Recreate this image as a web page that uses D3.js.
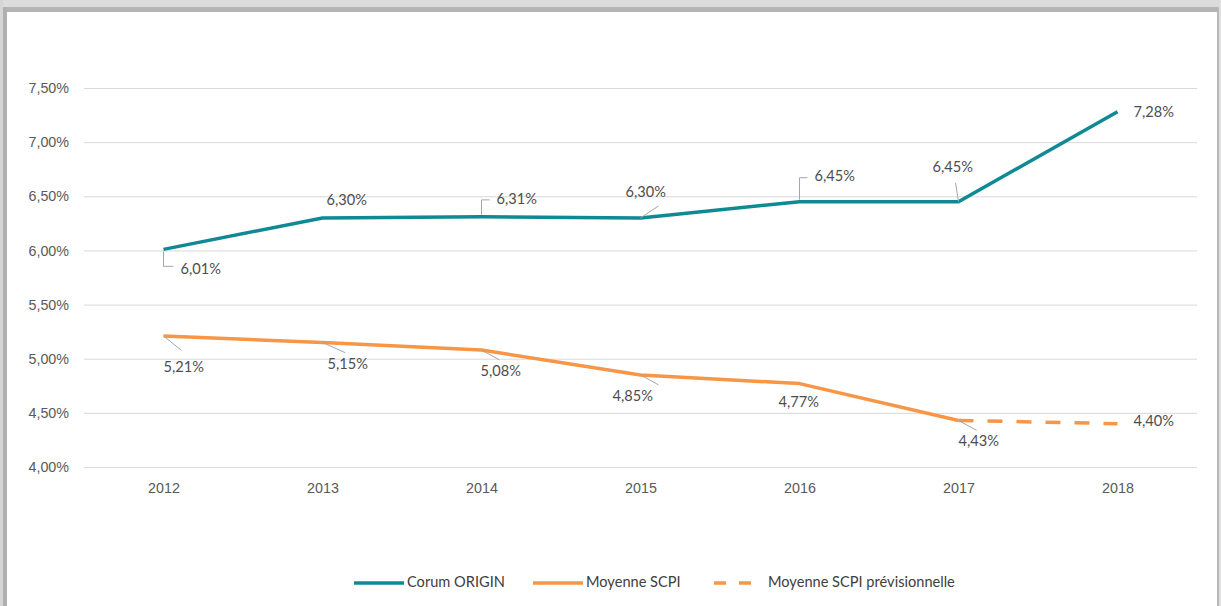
<!DOCTYPE html>
<html>
<head>
<meta charset="utf-8">
<script src="https://cdn.jsdelivr.net/npm/d3@7"></script>
<style>
  body { margin: 0; background: #fff; }
  svg { display: block; font-family: Lato, "Open Sans", sans-serif; }
  .tick text { fill: #595959; font-size: 14.3px; }
  .lbl { fill: #4d4d4d; font-size: 14.6px; }
  .leg { fill: #404040; font-size: 14.6px; }
</style>
</head>
<body>
<svg id="chart"></svg>
<script>
// data
const years = ["2012", "2013", "2014", "2015", "2016", "2017", "2018"];
const corum = [6.01, 6.30, 6.31, 6.30, 6.45, 6.45, 7.28];
const moyenne = [5.21, 5.15, 5.08, 4.85, 4.77, 4.43];
const forecastYears = ["2017", "2018"];
const forecast = [4.43, 4.40];
const yTicks = [4.0, 4.5, 5.0, 5.5, 6.0, 6.5, 7.0, 7.5];

// label placement (layout only): [dx, dy, leader type]
const corumLabelPos = [
  [17, 21, "elbowDown"], [4, -17, "none"], [15, -17, "elbowUp"], [-15, -25, "diag"],
  [15, -24, "elbowUp"], [-26, -33, "diagUp"], [16, 1, "none"]
];
const moyLabelPos = [
  [0, 32, "diag"], [5, 23, "diag"], [-1, 22, "diag"], [-28, 22, "diag"],
  [-21, 20, "none"], [0, 22, "diag"]
];
const forecastLabelPos = [null, [16, -1, "none"]];

const width = 1221, height = 606;
const teal = "#0f8a94", orange = "#f79646";
const fmt = v => v.toFixed(2).replace(".", ",") + "%";

const svg = d3.select("#chart").attr("width", width).attr("height", height);

// shadow frame like the pasted picture
svg.append("rect").attr("x", 0).attr("y", 0).attr("width", width).attr("height", height).attr("fill", "#fff");
svg.append("rect").attr("x", 0).attr("y", 0).attr("width", width).attr("height", 7).attr("fill", "#dcdcdc");
svg.append("rect").attr("x", 0).attr("y", 7).attr("width", width).attr("height", 5).attr("fill", "#b4b4b4");
svg.append("rect").attr("x", 0).attr("y", 0).attr("width", 3).attr("height", height).attr("fill", "#d6d6d6");
svg.append("rect").attr("x", 3).attr("y", 7).attr("width", 4).attr("height", height).attr("fill", "#b0b0b0");
svg.append("rect").attr("x", 1217).attr("y", 7).attr("width", 2).attr("height", height).attr("fill", "#b8b8b8");
svg.append("rect").attr("x", 1219).attr("y", 0).attr("width", 2).attr("height", height).attr("fill", "#e0e0e0");

const x = d3.scalePoint().domain(years).range([84, 1197]).padding(0.5);
const y = d3.scaleLinear().domain([4, 7.5]).range([467, 88]);

// gridlines + y labels
const yAxis = svg.append("g")
  .attr("transform", "translate(84,0)")
  .call(d3.axisLeft(y).tickValues(yTicks).tickSize(-1113).tickPadding(15).tickFormat(fmt));
yAxis.select(".domain").remove();
yAxis.selectAll(".tick line").attr("stroke", "#d9d9d9").attr("stroke-width", 1);

const xAxis = svg.append("g")
  .attr("transform", "translate(0,467)")
  .call(d3.axisBottom(x).tickSize(0).tickPadding(16));
xAxis.select(".domain").remove();

const line = d3.line().x(d => x(d[0])).y(d => y(d[1]));

svg.append("path")
  .datum(years.slice(0, moyenne.length).map((yr, i) => [yr, moyenne[i]]))
  .attr("d", line).attr("fill", "none").attr("stroke", orange).attr("stroke-width", 3.5)
  .attr("stroke-linejoin", "round");
svg.append("path")
  .datum(forecastYears.map((yr, i) => [yr, forecast[i]]))
  .attr("d", line).attr("fill", "none").attr("stroke", orange).attr("stroke-width", 3.5)
  .attr("stroke-dasharray", "15,14");
svg.append("path")
  .datum(years.map((yr, i) => [yr, corum[i]]))
  .attr("d", line).attr("fill", "none").attr("stroke", teal).attr("stroke-width", 3.5)
  .attr("stroke-linejoin", "round");

// data labels with leader lines
function addLabels(yrs, vals, pos) {
  yrs.forEach((yr, i) => {
    const p = pos[i];
    if (!p) return;
    const px = x(yr), py = y(vals[i]);
    const tx = px + p[0], ty = py + p[1];
    const g = svg.append("g");
    let pts = null;
    if (p[2] === "elbowDown") pts = [[px, py + 2], [px, ty - 4], [tx - 7, ty - 4]];
    if (p[2] === "elbowUp") pts = [[px, py - 2], [px, ty], [tx - 7, ty]];
    if (p[2] === "diag") pts = [[px, py], [px + Math.max(p[0], 0) + 18, py + p[1] * 0.45]];
    if (p[2] === "diagUp") pts = [[px, py], [px - 3, py - 19]];
    if (i === 3 && p[2] === "diag" && p[1] < 0) pts = [[px, py], [px + 18, py - 12]];
    if (pts) {
      g.append("path").attr("d", d3.line()(pts)).attr("fill", "none")
        .attr("stroke", "#a6a6a6").attr("stroke-width", 1);
    }
    g.append("text").attr("class", "lbl").attr("x", tx).attr("y", ty)
      .attr("dominant-baseline", "middle").text(fmt(vals[i]));
  });
}
addLabels(years, corum, corumLabelPos);
addLabels(years.slice(0, moyenne.length), moyenne, moyLabelPos);
addLabels(forecastYears, forecast, forecastLabelPos);

// legend
const legendItems = [
  { name: "Corum ORIGIN", color: teal, dash: null, x0: 354, x1: 404, tx: 407 },
  { name: "Moyenne SCPI", color: orange, dash: null, x0: 533, x1: 583, tx: 586 },
  { name: "Moyenne SCPI prévisionnelle", color: orange, dash: "12,13", x0: 714, x1: 757, tx: 768 }
];
const legY = 583;
legendItems.forEach(it => {
  svg.append("line").attr("x1", it.x0).attr("x2", it.x1).attr("y1", legY).attr("y2", legY)
    .attr("stroke", it.color).attr("stroke-width", 3.5)
    .attr("stroke-dasharray", it.dash);
  svg.append("text").attr("class", "leg").attr("x", it.tx).attr("y", legY)
    .attr("dominant-baseline", "middle").text(it.name);
});
</script>
</body>
</html>
